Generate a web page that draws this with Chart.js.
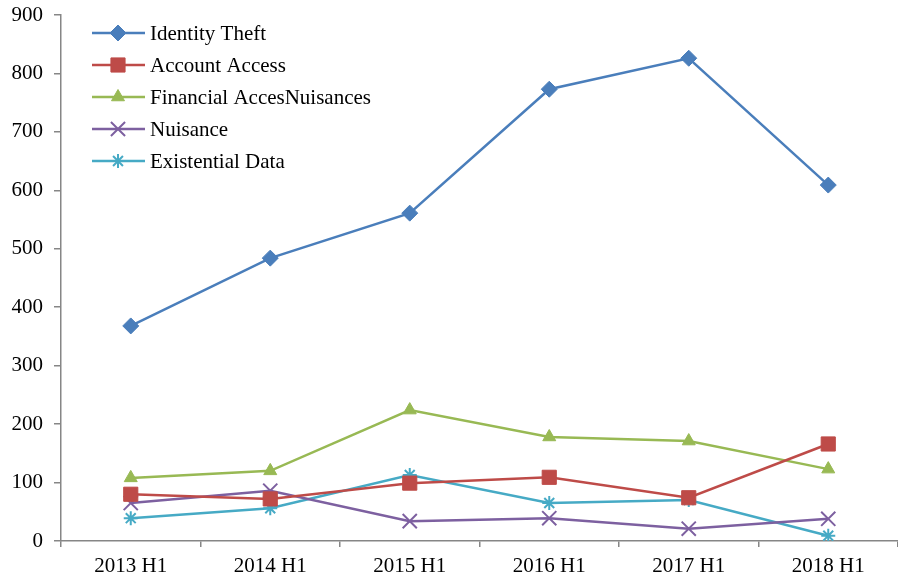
<!DOCTYPE html>
<html>
<head>
<meta charset="utf-8">
<script src="https://cdn.jsdelivr.net/npm/chart.js@4/dist/chart.umd.min.js"></script>
<style>
  html, body { margin: 0; padding: 0; background: #fff; }
  #wrap { width: 898px; height: 577px; }
</style>
</head>
<body>
<div id="wrap"><canvas id="chart" width="898" height="577"></canvas></div>
<script>
const categories = ['2013 H1', '2014 H1', '2015 H1', '2016 H1', '2017 H1', '2018 H1'];
const identityTheft = [368, 484, 561, 773, 826, 609];
const accountAccess = [80, 72, 99, 109, 74, 166];
const financialAcces = [108, 120, 224, 178, 171, 123];
const nuisance = [65, 86, 34, 39, 21, 38];
const existentialData = [39, 56, 113, 65, 70, 9];
const yTicks = [0, 100, 200, 300, 400, 500, 600, 700, 800, 900];

const FONT = '"Liberation Serif", "Times New Roman", serif';
const AXIS = '#868686';

function series(label, data, color, style, radius) {
  return {
    label, data,
    borderColor: color,
    backgroundColor: color,
    borderWidth: 2.5,
    pointStyle: style,
    pointRadius: radius,
    pointHoverRadius: radius,
    pointBorderWidth: (style === 'crossRot' || style === 'star') ? 2 : 1,
    tension: 0
  };
}

const datasets = [
  series('Identity Theft', identityTheft, '#4A7EBB', 'rectRot', 8),
  series('Account Access', accountAccess, '#BE4B48', 'rect', 10),
  series('Financial AccesNuisances', financialAcces, '#98B954', 'triangle', 7.5),
  series('Nuisance', nuisance, '#7D60A0', 'crossRot', 10),
  series('Existential Data', existentialData, '#46AAC5', 'star', 7)
];

// легенда внутри области графика: линия + маркер, как в Excel
const insideLegend = {
  id: 'insideLegend',
  afterDraw(chart) {
    const ctx = chart.ctx;
    ctx.save();
    chart.data.datasets.forEach((ds, i) => {
      const y = 33 + i * 32;
      ctx.strokeStyle = ds.borderColor;
      ctx.fillStyle = ds.borderColor;
      ctx.lineWidth = 2.5;
      ctx.beginPath();
      ctx.moveTo(92, y);
      ctx.lineTo(145, y);
      ctx.stroke();
      ctx.lineWidth = ds.pointBorderWidth;
      Chart.helpers.drawPoint(ctx, {
        pointStyle: ds.pointStyle,
        radius: ds.pointRadius,
        borderWidth: ds.pointBorderWidth,
        rotation: 0
      }, 118, y);
      ctx.fillStyle = '#000';
      ctx.font = '21px ' + FONT;
      ctx.textBaseline = 'middle';
      ctx.textAlign = 'left';
      ctx.fillText(ds.label, 150, y + 1);
    });
    ctx.restore();
  }
};

new Chart(document.getElementById('chart'), {
  type: 'line',
  data: { labels: categories, datasets },
  plugins: [insideLegend],
  options: {
    responsive: false,
    animation: false,
    layout: { autoPadding: false, padding: { top: 15, right: -3, left: 0, bottom: 0 } },
    plugins: { legend: { display: false }, tooltip: { enabled: false } },
    scales: {
      x: {
        offset: true,
        grid: { offset: true, drawOnChartArea: false, drawTicks: true, tickLength: 6, color: AXIS, lineWidth: 1.5 },
        border: { color: AXIS, width: 1.5 },
        ticks: { color: '#000', font: { family: FONT, size: 21 }, padding: 7, maxRotation: 0 },
        afterFit(scale) {
          scale.height = 36;
          scale.paddingLeft = 0;
          scale.paddingRight = 0;
        }
      },
      y: {
        min: 0, max: 900,
        afterBuildTicks(scale) { scale.ticks = yTicks.map(v => ({ value: v })); },
        grid: { drawOnChartArea: false, drawTicks: true, tickLength: 7, color: AXIS, lineWidth: 1.5 },
        border: { color: AXIS, width: 1.5 },
        ticks: { color: '#000', font: { family: FONT, size: 21 }, padding: 11 },
        afterFit(scale) {
          scale.width = 61;
          scale.paddingTop = 0;
          scale.paddingBottom = 0;
        }
      }
    }
  }
});
</script>
</body>
</html>
